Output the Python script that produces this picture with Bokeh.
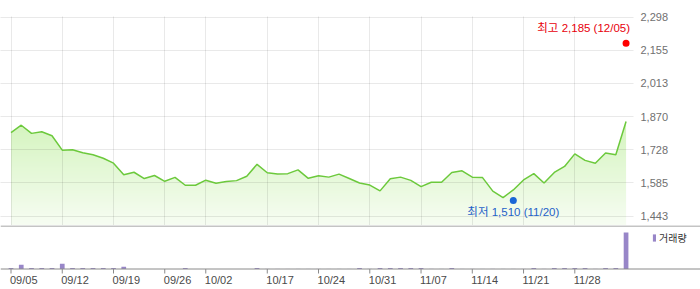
import numpy as np
from bokeh.plotting import figure
from bokeh.layouts import column
from bokeh.models import (Range1d, FixedTicker, NumeralTickFormatter, Span, Grid,
                          Legend, LegendItem)
from bokeh.core.properties import value
from bokeh.embed import file_html
from bokeh.resources import INLINE

# ---------------- data ----------------
DATES = [
    "09/05", "09/08", "09/09", "09/10", "09/11", "09/12",
    "09/15", "09/16", "09/17", "09/18", "09/19",
    "09/22", "09/23", "09/24", "09/25", "09/26",
    "09/29", "09/30", "10/01", "10/02",
    "10/10", "10/13", "10/14", "10/15", "10/16", "10/17",
    "10/20", "10/21", "10/22", "10/23", "10/24",
    "10/27", "10/28", "10/29", "10/30", "10/31",
    "11/03", "11/04", "11/05", "11/06", "11/07",
    "11/10", "11/11", "11/12", "11/13", "11/14",
    "11/17", "11/18", "11/19", "11/20", "11/21",
    "11/24", "11/25", "11/26", "11/27", "11/28",
    "12/01", "12/02", "12/03", "12/04", "12/05",
]
CLOSE = [
    1801, 1833, 1798, 1805, 1788, 1726,
    1728, 1715, 1706, 1691, 1670,
    1620, 1631, 1604, 1617, 1592,
    1609, 1575, 1575, 1597,
    1584, 1591, 1595, 1614, 1665, 1629,
    1623, 1625, 1641, 1605, 1616,
    1610, 1623, 1604, 1585, 1576,
    1551, 1603, 1610, 1596, 1569,
    1588, 1588, 1630, 1637, 1610,
    1608, 1550, 1522, 1555, 1598,
    1625, 1585, 1630, 1656, 1710,
    1682, 1670, 1714, 1706, 1849,
]
VOLUME = [
    110000, 430000, 100000, 100000, 100000, 530000,
    100000, 100000, 100000, 100000, 100000,
    230000, 9000, 12000, 8000, 10000,
    7000, 100000, 9000, 11000,
    6000, 8000, 7000, 9000, 100000, 10000,
    8000, 6000, 9000, 7000, 8000,
    6000, 9000, 7000, 100000, 12000,
    100000, 100000, 100000, 100000, 100000,
    11000, 9000, 100000, 8000, 10000,
    7000, 12000, 9000, 10000, 8000,
    100000, 11000, 100000, 100000, 100000,
    100000, 12000, 100000, 100000, 3650000,
]
TICK_DATES = ["09/05", "09/12", "09/19", "09/26", "10/02", "10/17",
              "10/24", "10/31", "11/07", "11/14", "11/21", "11/28"]
Y_TICKS = [1443, 1585, 1728, 1870, 2013, 2155, 2298]
HIGH_VALUE, HIGH_DATE = 2185, "12/05"
LOW_VALUE, LOW_DATE = 1510, "11/20"
VOLUME_LABEL = "거래량"

# ---------------- layout / style ----------------
W = 700
PRICE_H = 225
VOL_H = 64
FRAME_RIGHT = 633
TOP_PAD = 16
FIRST_PX = 10.5
PX_PER_DAY = 10.251
BOTTOM_TICK_PX = 215.5
VOL_ZERO_PX = 43.5
VOL_PER_PX = 100000
FONT = "Liberation Sans, Noto Sans CJK KR"

idx = list(range(len(DATES)))
tick_idx = [DATES.index(d) for d in TICK_DATES]
high_idx = DATES.index(HIGH_DATE)
low_idx = DATES.index(LOW_DATE)

x_start = -FIRST_PX / PX_PER_DAY
px_per_won = (BOTTOM_TICK_PX - (TOP_PAD + 0.5)) / (Y_TICKS[-1] - Y_TICKS[0])
y_end = Y_TICKS[-1] + 0.5 / px_per_won
y_start = Y_TICKS[0] - (PRICE_H - BOTTOM_TICK_PX) / px_per_won

# ---------------- price chart ----------------
p = figure(width=W, height=PRICE_H, output_backend="svg", toolbar_location=None,
           x_range=Range1d(x_start, x_start + FRAME_RIGHT / PX_PER_DAY),
           y_range=Range1d(y_start, y_end),
           x_axis_location=None, y_axis_location="right",
           min_border_left=0, min_border_right=W - FRAME_RIGHT,
           min_border_top=TOP_PAD, min_border_bottom=0, frame_align=False,
           outline_line_color=None, background_fill_color="white",
           border_fill_color="white")
p.grid.visible = False

# gradient fill under the line
N = 200
t = np.linspace(0, 1, N)[:, None]
bottom_c = np.array([247, 253, 243])
top_c = np.array([212, 244, 190])
cols = (bottom_c + (top_c - bottom_c) * t).astype(np.uint8)
rgba = np.zeros((N, 1, 4), dtype=np.uint8)
rgba[:, 0, :3] = cols
rgba[:, 0, 3] = 255
img = rgba.view(np.uint32).reshape(N, 1)
p.image_rgba(image=[img], x=idx[0], y=y_start, dw=idx[-1] - idx[0],
             dh=max(CLOSE) - y_start)
p.varea(x=idx, y1=CLOSE, y2=y_end, fill_color="white")

p.add_layout(Grid(dimension=0, ticker=FixedTicker(ticks=tick_idx),
                  grid_line_color="black", grid_line_alpha=0.085, level="guide"))
p.add_layout(Grid(dimension=1, ticker=FixedTicker(ticks=Y_TICKS),
                  grid_line_color="black", grid_line_alpha=0.085, level="guide"))

p.line(idx, CLOSE, line_color="#6cc93c", line_width=1.5, level="overlay")

p.scatter([high_idx], [HIGH_VALUE], size=7, fill_color="#ff0000",
          line_color=None, level="overlay")
p.scatter([low_idx], [LOW_VALUE], size=7, fill_color="#1a66d6",
          line_color=None, level="overlay")
p.text(x=[high_idx], y=[HIGH_VALUE], text=[f"최고 {HIGH_VALUE:,} ({HIGH_DATE})"],
       text_align="right", text_baseline="middle", x_offset=4, y_offset=-15,
       text_font=value(FONT), text_font_size="11.5px", text_color="#e8000b",
       level="overlay")
p.text(x=[low_idx], y=[LOW_VALUE], text=[f"최저 {LOW_VALUE:,} ({LOW_DATE})"],
       text_align="center", text_baseline="middle", x_offset=0, y_offset=12,
       text_font=value(FONT), text_font_size="11.5px", text_color="#1f62c8",
       level="overlay")

ax = p.yaxis[0]
ax.ticker = FixedTicker(ticks=Y_TICKS)
ax.formatter = NumeralTickFormatter(format="0,0")
ax.axis_line_color = None
ax.major_tick_line_color = None
ax.minor_tick_line_color = None
ax.major_tick_out = 0
ax.major_tick_in = 0
ax.minor_tick_out = 0
ax.minor_tick_in = 0
ax.major_label_standoff = 7
ax.major_label_text_font = FONT
ax.major_label_text_font_size = "11px"
ax.major_label_text_color = "#707070"

# ---------------- volume chart ----------------
v = figure(width=W, height=VOL_H, output_backend="svg", toolbar_location=None,
           x_range=Range1d(x_start, x_start + W / PX_PER_DAY),
           y_range=Range1d(-(VOL_H - VOL_ZERO_PX) * VOL_PER_PX, VOL_ZERO_PX * VOL_PER_PX),
           x_axis_location=None, y_axis_location=None, min_border=0,
           frame_align=False,
           outline_line_color=None, background_fill_color="white",
           border_fill_color="white")
v.grid.visible = False

bars = v.vbar(x=idx, top=VOLUME, bottom=0, width=0.46, fill_color="#9886c8",
              line_color=None)
v.add_layout(Span(location=0, dimension="width", line_color="#8a8a8a", line_width=1))
v.add_layout(Span(location=(VOL_ZERO_PX - 0.5) * VOL_PER_PX, dimension="width",
                  line_color="#8a8a8a", line_width=1))
v.segment(x0=tick_idx, y0=0, x1=tick_idx, y1=-4.5 * VOL_PER_PX,
          line_color="#8a8a8a", line_width=1)
v.text(x=tick_idx, y=-10.8 * VOL_PER_PX, text=TICK_DATES, text_align="left",
       text_baseline="middle", x_offset=-1, text_font=value(FONT),
       text_font_size="11px", text_color="#4a4a4a")

legend = Legend(items=[LegendItem(label=VOLUME_LABEL, renderers=[bars])],
                location=(652, 44.5), padding=2, margin=0, spacing=0,
                glyph_width=4, glyph_height=9, label_height=9, label_standoff=3,
                label_text_font=FONT, label_text_font_size="10px",
                label_text_color="#333333", border_line_color=None,
                background_fill_alpha=0)
v.add_layout(legend)

layout = column(p, v, spacing=0)
open("out.html", "w").write(file_html(layout, INLINE))
